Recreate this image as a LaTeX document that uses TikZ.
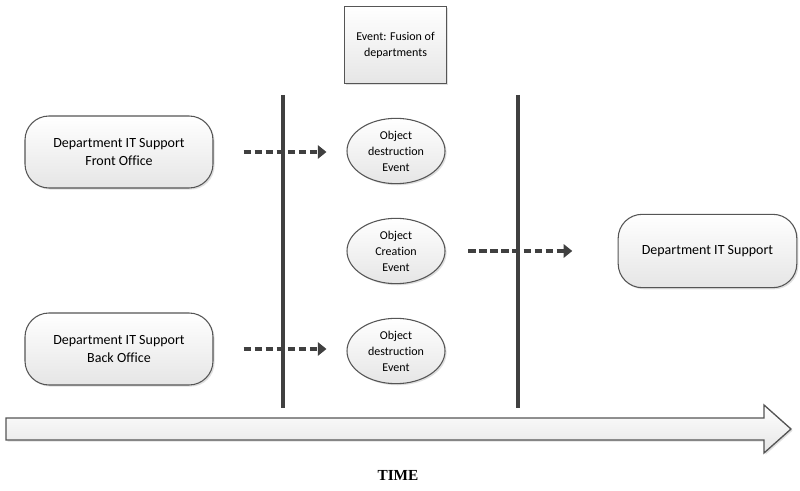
\documentclass[tikz,border=0pt]{standalone}
\usepackage{fontspec}
\setmainfont{Carlito}[Ligatures=NoCommon]
\newfontfamily\timefont{Liberation Serif}
\usetikzlibrary{shapes.geometric,shadows,arrows.meta}
\definecolor{edge}{HTML}{555555}
\definecolor{bar}{HTML}{404040}
\tikzset{
  fillshade/.style={top color=white, bottom color=black!10, draw=edge, line width=0.8pt,
    drop shadow={shadow xshift=1.2pt, shadow yshift=-1.2pt, fill=black!25}},
  roundbox/.style={fillshade, rounded corners=18pt, minimum width=141pt, minimum height=54pt,
    align=center, font=\fontsize{10.5}{13}\selectfont, inner sep=2pt},
  evell/.style={fillshade, ellipse, minimum width=73.5pt, minimum height=49pt, inner sep=0pt,
    align=center, font=\fontsize{9}{12}\selectfont},
  evbox/.style={fillshade, minimum width=76pt, minimum height=58pt, align=center,
    font=\fontsize{9}{12}\selectfont, inner sep=2pt},
  bigbar/.style={draw=bar, line width=3.6pt},
  dasharrow/.style={draw=bar, line width=2.6pt, dash pattern=on 5.5pt off 2.8pt,
    -{Triangle[length=6.5pt,width=10pt]}},
}
\begin{document}
\begin{tikzpicture}[x=0.75pt,y=-0.75pt]
\useasboundingbox (0,0) rectangle (800,491);
% vertical bars
\coordinate (l1t) at (283,95);
\coordinate (l1b) at (283,408);
\coordinate (l2t) at (518,95);
\coordinate (l2b) at (518,408);
\draw[bigbar] (l1t) -- (l1b);
\draw[bigbar] (l2t) -- (l2b);
% nodes
\node[evbox] (ev) at (395.5,45) {Event: Fusion of\\departments};
\node[roundbox] (fo) at (119,152) {Department IT Support\\Front Office};
\node[roundbox] (bo) at (119,349) {Department IT Support\\Back Office};
\node[evell] (e1) at (396,151) {Object\\destruction\\Event};
\node[evell] (e2) at (396,251) {Object\\Creation\\Event};
\node[evell] (e3) at (396,351) {Object\\destruction\\Event};
\node[roundbox, minimum width=134pt, minimum height=55pt] (dit) at (707.5,251) {Department IT Support};
% dashed arrows
\draw[dasharrow, shorten <=22.5pt, shorten >=15pt] (fo.east) -- (fo.east -| e1.west);
\draw[dasharrow, shorten <=22.5pt, shorten >=15pt] (bo.east) -- (bo.east -| e3.west);
\draw[dasharrow, shorten <=17pt, shorten >=34pt] (e2.east) -- (e2.east -| dit.west);
% time arrow
\draw[fillshade, line width=1pt, line join=miter]
  (6,418) -- (764,418) -- (764,405) -- (791,429) -- (764,453) -- (764,440) -- (6,440) -- cycle;
\node[font=\timefont\bfseries\fontsize{11.5}{14}\selectfont] (time) at (398,475) {TIME};
\end{tikzpicture}
\end{document}
